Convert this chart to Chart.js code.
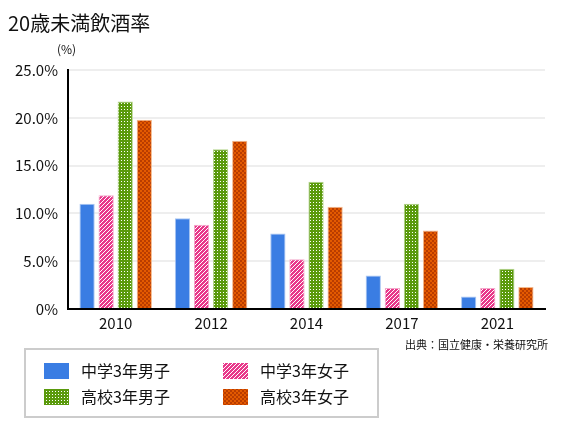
<!DOCTYPE html>
<html>
<head>
<meta charset="utf-8">
<script src="https://cdn.jsdelivr.net/npm/chart.js@4"></script>
<style>
  html, body { margin: 0; padding: 0; background: #fff; }
  #wrap { width: 565px; height: 439px; }
</style>
</head>
<body>
<div id="wrap"><canvas id="chart" width="565" height="439"></canvas></div>
<script>
const FONT = "'Noto Sans CJK JP', 'Noto Sans', sans-serif";

const years = ['2010', '2012', '2014', '2017', '2021'];
const juniorBoys = [11.0, 9.5, 7.9, 3.5, 1.3];
const juniorGirls = [11.9, 8.8, 5.2, 2.2, 2.2];
const highBoys = [21.7, 16.7, 13.3, 11.0, 4.2];
const highGirls = [19.8, 17.6, 10.7, 8.2, 2.3];
const seriesNames = ['中学3年男子', '中学3年女子', '高校3年男子', '高校3年女子'];
const yTicks = [0, 5, 10, 15, 20, 25];

// pattern fills
function makePattern(size, draw) {
  const c = document.createElement('canvas');
  c.width = size; c.height = size;
  draw(c.getContext('2d'), size);
  return c.getContext('2d').createPattern(c, 'repeat');
}

const blueFill = '#3a7de3';
const pinkFill = makePattern(4, (g, s) => {
  g.fillStyle = '#e8388a';
  g.fillRect(0, 0, s, s);
  g.fillStyle = '#ffffff';
  for (let i = 0; i < s; i++) g.fillRect(s - 1 - i, i, 1, 1);
});
const greenFill = makePattern(3, (g, s) => {
  g.fillStyle = '#5a9a0c';
  g.fillRect(0, 0, s, s);
  g.fillStyle = '#ffffff';
  g.fillRect(1, 1, 1, 1);
});
const orangeFill = makePattern(4, (g, s) => {
  g.fillStyle = '#e45a00';
  g.fillRect(0, 0, s, s);
  g.fillStyle = '#b93c00';
  g.fillRect(0, 0, 2, 2);
  g.fillRect(2, 2, 2, 2);
});

const fills = [blueFill, pinkFill, greenFill, orangeFill];
const borders = ['#a9c6f2', '#f3a9cb', '#b3d48a', '#f3b98e'];

// extra texts + boxed legend
const decorations = {
  id: 'decorations',
  afterDraw(chart) {
    const ctx = chart.ctx;
    ctx.save();
    ctx.fillStyle = '#111';
    ctx.textBaseline = 'middle';
    ctx.textAlign = 'left';
    ctx.font = '20px ' + FONT;
    ctx.fillText('20歳未満飲酒率', 8, 23);
    ctx.font = '12px ' + FONT;
    ctx.fillText('(%)', 57, 49);
    ctx.textAlign = 'right';
    ctx.font = '11px ' + FONT;
    ctx.fillText('出典：国立健康・栄養研究所', 548, 345);

    // legend box
    ctx.strokeStyle = '#cccccc';
    ctx.lineWidth = 2;
    ctx.strokeRect(25, 349, 353, 68);
    const pos = [[44, 363], [223, 363], [44, 389], [223, 389]];
    ctx.textAlign = 'left';
    ctx.font = '16px ' + FONT;
    seriesNames.forEach((name, i) => {
      const [x, y] = pos[i];
      ctx.fillStyle = fills[i];
      ctx.fillRect(x, y, 25, 16);
      ctx.fillStyle = '#111';
      ctx.fillText(name, x + 37, y + 8);
    });
    ctx.restore();
  }
};

const datasetValues = [juniorBoys, juniorGirls, highBoys, highGirls];

new Chart(document.getElementById('chart'), {
  type: 'bar',
  data: {
    labels: years,
    datasets: datasetValues.map((vals, i) => ({
      label: seriesNames[i],
      data: vals,
      backgroundColor: fills[i],
      borderColor: borders[i],
      borderWidth: 1,
      barPercentage: 0.8,
      categoryPercentage: 0.8
    }))
  },
  options: {
    responsive: false,
    animation: false,
    devicePixelRatio: 1,
    layout: { padding: { left: 0, right: 20, top: 70, bottom: 110 } },
    plugins: {
      legend: { display: false },
      tooltip: { enabled: false }
    },
    scales: {
      x: {
        grid: { display: false },
        border: { color: '#000', width: 2 },
        ticks: { color: '#111', font: { family: FONT, size: 15 }, padding: -3 }
      },
      y: {
        min: 0,
        max: 25,
        afterFit(scale) { scale.width = 68; },
        afterBuildTicks(scale) { scale.ticks = yTicks.map(v => ({ value: v })); },
        grid: { color: '#eeeeee', lineWidth: 2, drawTicks: false },
        border: { color: '#000', width: 2 },
        ticks: {
          color: '#111',
          padding: 10,
          font: { family: FONT, size: 15 },
          callback: v => v === 0 ? '0%' : v.toFixed(1) + '%'
        }
      }
    }
  },
  plugins: [decorations]
});
</script>
</body>
</html>
